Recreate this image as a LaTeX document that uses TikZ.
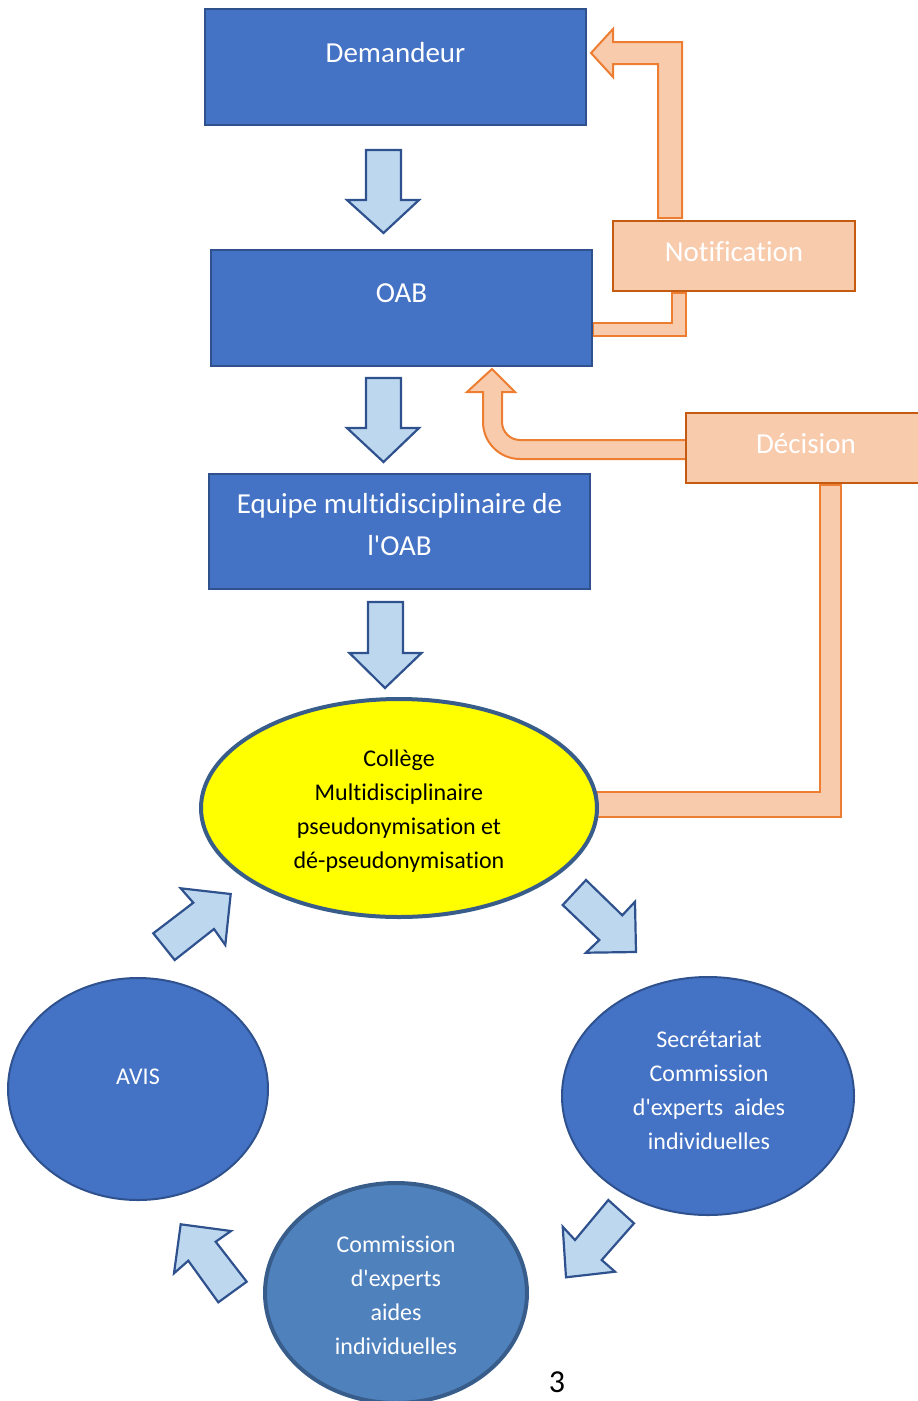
\documentclass[tikz,border=0pt]{standalone}
\usepackage{fontspec}
\setmainfont{Carlito}[Ligatures={TeX,NoCommon}]
\usetikzlibrary{shapes.geometric}
\definecolor{boxblue}{HTML}{4472C4}
\definecolor{boxline}{HTML}{2F528F}
\definecolor{arrowfill}{HTML}{BDD7EE}
\definecolor{orfill}{HTML}{F8CBAD}
\definecolor{orline}{HTML}{ED7D31}
\definecolor{orbox}{HTML}{C55A11}
\definecolor{comfill}{HTML}{4F81BD}
\definecolor{comline}{HTML}{385D8A}
\definecolor{pureyellow}{HTML}{FFFF00}
\begin{document}
\begin{tikzpicture}[x=1pt,y=-1pt,
  bluebox/.style={draw=boxline, fill=boxblue, line width=2pt, minimum width=381pt, minimum height=116pt, inner sep=0pt},
  orbx/.style={draw=orbox, fill=orfill, line width=2pt, inner sep=0pt},
  bigtxt/.style={font=\fontsize{29}{42}\selectfont, text=white, align=center, inner sep=0pt},
  smalltxt/.style={font=\fontsize{24}{34}\selectfont, align=center, inner sep=0pt},
  blockarrow/.style={draw=boxline, fill=arrowfill, line width=2.2pt, line join=miter},
  orarrow/.style={draw=orline, fill=orfill, line width=2pt},
  ell/.style={ellipse, inner sep=0pt},
]
\useasboundingbox (0,0) rectangle (918,1401);
\clip (0,0) rectangle (918,1401);

% orange connectors
\draw[orarrow] (658,218) -- (658,64) -- (613,64) -- (613,77) -- (591,53) -- (613,29) -- (613,42) -- (682,42) -- (682,218) -- cycle;
\draw[orarrow] (672,293) -- (686,293) -- (686,336) -- (593,336) -- (593,323) -- (672,323) -- cycle;
\draw[orarrow] (686,440) -- (520,440) .. controls (510.1,440) and (502,431.9) .. (502,422) -- (502,392) -- (515,392) -- (492,369) -- (467,392) -- (483,392) -- (483,422) .. controls (483,442.4) and (499.6,459) .. (520,459) -- (686,459) -- cycle;
\draw[orarrow] (820,485) -- (841,485) -- (841,817) -- (597,817) -- (597,792) -- (820,792) -- cycle;

% boxes
\node[bluebox] (dem) at (395.5,67) {};
\node[bigtxt] (demT) at (395.5,53) {Demandeur};
\node[bluebox] (oab) at (401.5,308) {};
\node[bigtxt] (oabT) at (401.5,293) {OAB};
\node[bluebox, minimum height=115pt] (equ) at (399.5,531.5) {};
\node[bigtxt] (equT) at (399.5,525) {Equipe multidisciplinaire de\\l\textquotesingle OAB};

\node[orbx, minimum width=242pt, minimum height=70pt] (notif) at (734,256) {};
\node[bigtxt] (notifT) at (734,252) {Notification};
\node[orbx, minimum width=249pt, minimum height=70pt] (dec) at (810.5,448) {};
\node[bigtxt] (decT) at (806,444) {Décision};

% down block arrows
\draw[blockarrow] (366,150) -- (401,150) -- (401,200) -- (419,200) -- (383.5,233) -- (347,200) -- (366,200) -- cycle;
\draw[blockarrow] (366,378) -- (401,378) -- (401,428) -- (419,428) -- (383.5,462) -- (347,428) -- (366,428) -- cycle;
\draw[blockarrow] (368,602) -- (403,602) -- (403,653) -- (421.5,653) -- (385,688) -- (349.5,653) -- (368,653) -- cycle;

% ellipses
\node[ell, draw=comline, line width=4pt, fill=pureyellow, minimum width=396pt, minimum height=218pt] (col) at (399,808) {};
\node[smalltxt, text=black] (colT) at (399,811) {Collège\\Multidisciplinaire\\pseudonymisation et\\dé-pseudonymisation};

\node[ell, draw=boxline, line width=2pt, fill=boxblue, minimum width=260pt, minimum height=222pt] (avis) at (138,1089) {};
\node[smalltxt, text=white] (avisT) at (138,1077) {AVIS};

\node[ell, draw=boxline, line width=2pt, fill=boxblue, minimum width=292pt, minimum height=238pt] (sec) at (708,1096) {};
\node[smalltxt, text=white] (secT) at (709,1090) {Secrétariat\\Commission\\d\textquotesingle experts~ aides\\individuelles};

\node[ell, draw=comline, line width=4pt, fill=comfill, minimum width=262pt, minimum height=220pt] (com) at (396,1293) {};
\node[smalltxt, text=white] (comT) at (396,1295) {Commission\\d\textquotesingle experts\\aides\\individuelles};

% diagonal block arrows
\draw[blockarrow] (174.7,960) -- (214,929) -- (225.3,945) -- (230.7,894) -- (180.7,888.3) -- (193.3,902.7) -- (153.3,933.3) -- cycle;
\draw[blockarrow] (586,880) -- (622.3,915.3) -- (635,901.7) -- (636,952) -- (586,952.7) -- (599.3,940) -- (562.7,905) -- cycle;
\draw[blockarrow] (608.3,1200) -- (634,1223.3) -- (601.7,1260) -- (615,1271.7) -- (566,1277.3) -- (562.7,1226.7) -- (575,1240) -- cycle;
\draw[blockarrow] (246.7,1281.7) -- (215.7,1241.7) -- (231,1231) -- (180.7,1224.3) -- (174,1273.3) -- (188.3,1260.7) -- (218.3,1302.3) -- cycle;

\node[font=\fontsize{32}{36}\selectfont, inner sep=0pt] (page) at (557,1382) {3};
\end{tikzpicture}
\end{document}
